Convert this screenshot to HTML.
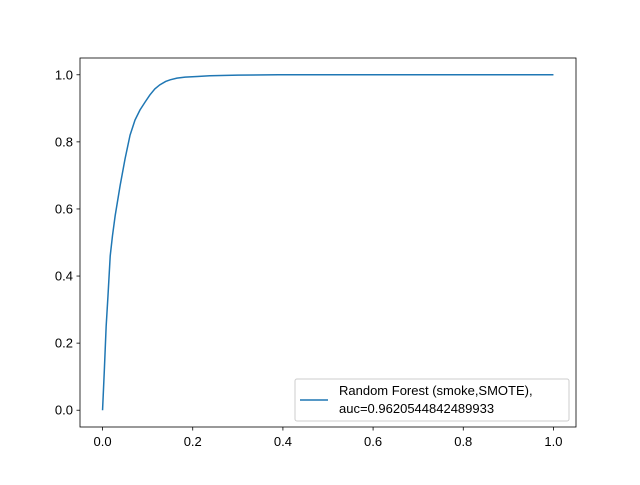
<!DOCTYPE html>
<html><head><meta charset="utf-8"><style>
body{margin:0;background:#fff}
svg{font-family:"Liberation Sans","DejaVu Sans",sans-serif}
</style></head><body>
<svg id="chart" width="640" height="480" xmlns="http://www.w3.org/2000/svg">
<rect width="640" height="480" fill="#fff"/>
<g id="ticks"></g>
<path id="curve" fill="none" stroke="#1f77b4" stroke-width="1.5"/>
<rect x="80" y="58" width="496" height="369" fill="none" stroke="#000" stroke-width="0.8"/>
<g>
<rect x="295" y="379" width="274" height="42" rx="2" fill="#fff" fill-opacity="0.8" stroke="#ccc"/>
<line x1="300" y1="400" x2="328" y2="400" stroke="#1f77b4" stroke-width="1.5"/>
<text x="339" y="395" font-size="13">Random Forest (smoke,SMOTE),</text>
<text x="339" y="413" font-size="13">auc=0.9620544842489933</text>
</g>
</svg>
<script>
const fpr=[0,0.004,0.008,0.012,0.017,0.022,0.028,0.039,0.05,0.061,0.072,0.083,0.095,0.105,0.116,0.127,0.14,0.15,0.165,0.183,0.21,0.238,0.3,0.39,0.6,0.8,1];
const tpr=[0,0.12,0.25,0.34,0.46,0.52,0.58,0.67,0.75,0.82,0.865,0.895,0.92,0.94,0.958,0.97,0.98,0.985,0.99,0.993,0.995,0.997,0.999,1,1,1,1];
const xTicks=[0,0.2,0.4,0.6,0.8,1.0];
const yTicks=[0,0.2,0.4,0.6,0.8,1.0];
const X=v=>80+(v+0.05)/1.1*496;
const Y=v=>427-(v+0.05)/1.1*369;
const ns="http://www.w3.org/2000/svg";
const g=document.getElementById('ticks');
xTicks.forEach(t=>{
 const l=document.createElementNS(ns,'line');
 l.setAttribute('x1',X(t));l.setAttribute('x2',X(t));l.setAttribute('y1',427);l.setAttribute('y2',430.5);l.setAttribute('stroke','#000');l.setAttribute('stroke-width','0.8');
 
 
 g.appendChild(l);
 const tx=document.createElementNS(ns,'text');
 tx.setAttribute('x',X(t));tx.setAttribute('y',446);tx.setAttribute('text-anchor','middle');tx.setAttribute('font-size','13');
 tx.textContent=t.toFixed(1);
 
 
 g.appendChild(tx);
});
yTicks.forEach(t=>{
 const l=document.createElementNS(ns,'line');
 l.setAttribute('x1',76.5);l.setAttribute('x2',80);l.setAttribute('y1',Y(t));l.setAttribute('y2',Y(t));l.setAttribute('stroke','#000');l.setAttribute('stroke-width','0.8');
 
 
 g.appendChild(l);
 const tx=document.createElementNS(ns,'text');
 tx.setAttribute('x',73);tx.setAttribute('y',Y(t)+4.5);tx.setAttribute('text-anchor','end');tx.setAttribute('font-size','13');
 tx.textContent=t.toFixed(1);
 
 
 g.appendChild(tx);
});
document.getElementById('curve').setAttribute('d',fpr.map((v,i)=>(i?'L':'M')+X(v).toFixed(2)+','+Y(tpr[i]).toFixed(2)).join(''));
</script>
</body></html>
